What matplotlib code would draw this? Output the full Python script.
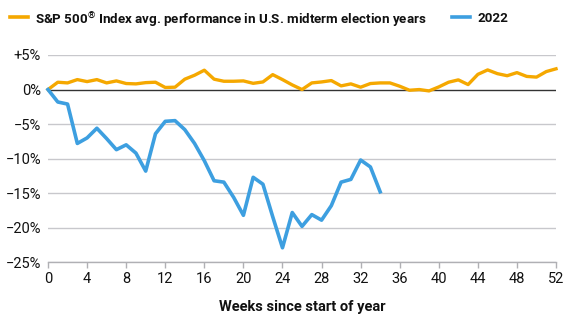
import matplotlib
matplotlib.use("Agg")
import matplotlib.pyplot as plt
from matplotlib.lines import Line2D

plt.rcParams['font.family'] = ['Roboto', 'DejaVu Sans']
plt.rcParams['mathtext.fontset'] = 'custom'
plt.rcParams['mathtext.rm'] = 'Roboto:bold'
plt.rcParams['mathtext.default'] = 'rm'

weeks_avg = list(range(0, 53))
avg_midterm = [0.0, 1.06, 0.96, 1.44, 1.15, 1.44, 0.96, 1.25, 0.87, 0.82,
               1.0, 1.06, 0.3, 0.34, 1.5, 2.07, 2.8, 1.5, 1.2, 1.2,
               1.25, 0.9, 1.1, 2.16, 1.44, 0.67, 0.0, 0.96, 1.1, 1.3,
               0.53, 0.82, 0.34, 0.87, 0.96, 0.96, 0.48, -0.1, 0.0, -0.2,
               0.38, 1.06, 1.4, 0.72, 2.2, 2.84, 2.3, 2.0, 2.45, 1.9,
               1.8, 2.6, 3.0]

weeks_2022 = list(range(0, 35))
perf_2022 = [0.0, -1.8, -2.1, -7.8, -7.0, -5.6, -7.1, -8.7, -8.0, -9.2,
             -11.8, -6.4, -4.6, -4.5, -5.8, -7.8, -10.3, -13.2, -13.4, -15.6,
             -18.2, -12.7, -13.7, -18.4, -22.9, -17.8, -19.8, -18.1, -18.9, -16.8,
             -13.4, -13.0, -10.2, -11.2, -14.8]

x_ticks = list(range(0, 53, 4))
y_ticks = [5, 0, -5, -10, -15, -20, -25]
y_labels = ['+5%', '0%', '\u22125%', '\u221210%', '\u221215%', '\u221220%', '\u221225%']

legend_labels = ['S&P 500$^{\u00ae}$ Index avg. performance in U.S. midterm election years', '2022']

ORANGE = '#F5A800'
BLUE = '#3D9FE0'

W, H = 575, 326
fig = plt.figure(figsize=(W / 100, H / 100), dpi=100)
ax = fig.add_axes([0.0835, 0.1954, 0.8835, 0.6359])

for y in y_ticks:
    if y == 0:
        continue
    ax.axhline(y, color='#c8c8cc', lw=1.0, zorder=1)
ax.axhline(0, color='#333333', lw=1.0, zorder=2)

ax.plot(weeks_avg, avg_midterm, color=ORANGE, lw=2.4, zorder=3,
        solid_joinstyle='round', clip_on=False)
ax.plot(weeks_2022, perf_2022, color=BLUE, lw=2.6, zorder=4,
        solid_joinstyle='round', clip_on=False)

ax.set_xlim(0, 52)
ax.set_ylim(-25, 5)
ax.set_xticks(x_ticks)
ax.set_yticks(y_ticks)
ax.set_yticklabels(y_labels)

for side in ['left', 'right', 'top']:
    ax.spines[side].set_visible(False)
ax.spines['bottom'].set_color('#b0b0b4')
ax.spines['bottom'].set_linewidth(1.0)

ax.tick_params(axis='x', length=4, width=1.0, color='#b0b0b4',
               labelsize=10.5, labelcolor='#111111', pad=3)
ax.tick_params(axis='y', length=0, labelsize=10.5, labelcolor='#111111', pad=5)

ax.set_xlabel('Weeks since start of year', fontsize=10.5, fontweight='bold',
              color='#111111', labelpad=10)

# Legend drawn by hand across the top of the figure
legend_y = 1 - 17 / H
for (x0, x1, xt), color, label in zip([(10, 28, 35), (452, 470, 477)],
                                      [ORANGE, BLUE], legend_labels):
    fig.add_artist(Line2D([x0 / W, x1 / W], [legend_y, legend_y],
                          color=color, lw=2.6, transform=fig.transFigure))
    fig.text(xt / W, legend_y, label, fontsize=9.6, fontweight='bold',
             color='#111111', ha='left', va='center_baseline')

fig.savefig('out.png', dpi=100)
